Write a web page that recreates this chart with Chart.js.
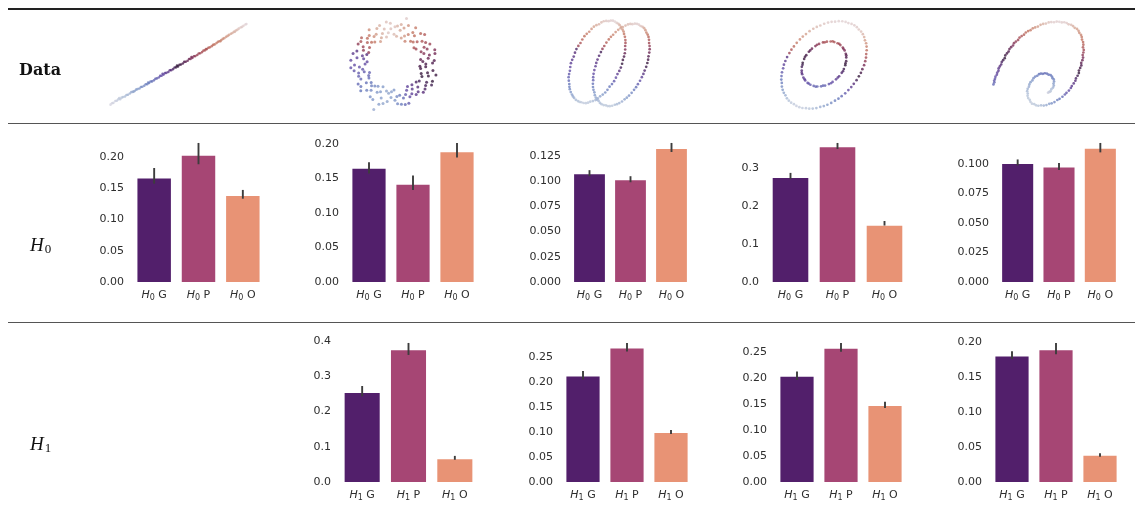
<!DOCTYPE html>
<html>
<head>
<meta charset="utf-8">
<script src="https://cdn.jsdelivr.net/npm/chart.js@4.4.0/dist/chart.umd.min.js"></script>
<style>
  html, body { margin: 0; padding: 0; background: #fff; }
  #fig { position: relative; width: 1135px; height: 525px; overflow: hidden; background: #fff; }
  .rule { position: absolute; left: 8px; width: 1127px; }
  .rowlab { position: absolute; white-space: nowrap; color: #111; will-change: transform; }
  .data-lab { font-family: "DejaVu Serif", serif; font-weight: bold; font-size: 16px; line-height: 16px; }
  .hom-lab { font-family: "Liberation Serif", serif; font-style: italic; font-size: 19px; line-height: 19px; }
  .hom-lab span { font-style: normal; font-size: 13px; position: relative; top: 2px; margin-left: 1px; }
  canvas { position: absolute; }
</style>
</head>
<body>
<div id="fig">
  <div class="rule" style="top:8px;height:1.6px;background:#222;"></div>
  <div class="rule" style="top:122.5px;height:1px;background:#555;"></div>
  <div class="rule" style="top:322px;height:1px;background:#555;"></div>
  <div class="rowlab data-lab" style="left:19px;top:62px;">Data</div>
  <div class="rowlab hom-lab" style="left:30px;top:235px;">H<span>0</span></div>
  <div class="rowlab hom-lab" style="left:30px;top:434px;">H<span>1</span></div>
</div>
<script>
// ---- bar data: categories and per-dataset means with error-bar bounds ----
const categories = ['G', 'P', 'O'];

const h0Mean = [
  [0.167, 0.203, 0.139],
  [0.165, 0.142, 0.189],
  [0.108, 0.102, 0.133],
  [0.277, 0.358, 0.151],
  [0.101, 0.098, 0.114]
];
const h0Low = [
  [0.157, 0.188, 0.133],
  [0.157, 0.133, 0.180],
  [0.105, 0.099, 0.129],
  [0.272, 0.351, 0.149],
  [0.099, 0.095, 0.110]
];
const h0High = [
  [0.182, 0.222, 0.147],
  [0.173, 0.154, 0.201],
  [0.111, 0.105, 0.138],
  [0.288, 0.367, 0.161],
  [0.104, 0.101, 0.118]
];

const h1Mean = [
  null,
  [0.255, 0.376, 0.067],
  [0.213, 0.269, 0.100],
  [0.204, 0.258, 0.148],
  [0.181, 0.190, 0.039]
];
const h1Low = [
  null,
  [0.243, 0.360, 0.063],
  [0.205, 0.261, 0.096],
  [0.196, 0.250, 0.142],
  [0.176, 0.183, 0.036]
];
const h1High = [
  null,
  [0.272, 0.394, 0.074],
  [0.222, 0.278, 0.104],
  [0.212, 0.267, 0.154],
  [0.187, 0.199, 0.041]
];

// ---- y tick labels per panel ----
const h0Ticks = [
  ['0.00', '0.05', '0.10', '0.15', '0.20'],
  ['0.00', '0.05', '0.10', '0.15', '0.20'],
  ['0.000', '0.025', '0.050', '0.075', '0.100', '0.125'],
  ['0.0', '0.1', '0.2', '0.3'],
  ['0.000', '0.025', '0.050', '0.075', '0.100']
];
const h1Ticks = [
  null,
  ['0.0', '0.1', '0.2', '0.3', '0.4'],
  ['0.00', '0.05', '0.10', '0.15', '0.20', '0.25'],
  ['0.00', '0.05', '0.10', '0.15', '0.20', '0.25'],
  ['0.00', '0.05', '0.10', '0.15', '0.20']
];

// ---- point clouds: [x, y, colour parameter] ----
const lineCloud = [
  [-7.0,-4.37,0.03],[-6.85,-4.22,0.04],[-6.7,-4.18,0.05],[-6.5,-3.98,0.06],[-6.35,-3.95,0.07],[-6.2,-3.80,0.08],
  [-6.0,-3.78,0.09],[-5.85,-3.62,0.10],[-5.7,-3.55,0.11],[-5.5,-3.50,0.12],[-5.35,-3.33,0.13],[-5.2,-3.30,0.14],
  [-5.0,-3.18,0.15],[-4.85,-3.02,0.16],[-4.7,-3.00,0.17],[-4.5,-2.90,0.18],[-4.35,-2.76,0.19],[-4.2,-2.70,0.20],
  [-4.0,-2.63,0.21],[-3.85,-2.48,0.22],[-3.7,-2.45,0.23],[-3.5,-2.34,0.24],[-3.35,-2.18,0.25],[-3.2,-2.17,0.26],
  [-3.0,-2.05,0.27],[-2.85,-1.88,0.28],[-2.7,-1.87,0.29],[-2.5,-1.76,0.30],[-2.35,-1.58,0.31],[-2.2,-1.55,0.32],
  [-2.0,-1.45,0.33],[-1.85,-1.28,0.35],[-1.7,-1.27,0.36],[-1.5,-1.14,0.37],[-1.35,-0.98,0.38],[-1.2,-0.95,0.40],
  [-1.0,-0.86,0.41],[-0.85,-0.67,0.43],[-0.7,-0.66,0.44],[-0.5,-0.55,0.46],[-0.35,-0.38,0.47],[-0.2,-0.36,0.49],
  [0.0,-0.26,0.50],[0.15,-0.08,0.52],[0.3,-0.06,0.53],[0.5,0.06,0.55],[0.65,0.23,0.56],[0.8,0.24,0.58],
  [1.0,0.35,0.59],[1.15,0.53,0.60],[1.3,0.55,0.62],[1.5,0.66,0.63],[1.65,0.83,0.64],[1.8,0.85,0.66],
  [2.0,0.97,0.67],[2.15,1.13,0.68],[2.3,1.16,0.69],[2.5,1.28,0.70],[2.65,1.44,0.71],[2.8,1.47,0.72],
  [3.0,1.60,0.73],[3.15,1.75,0.74],[3.3,1.79,0.75],[3.5,1.92,0.76],[3.65,2.06,0.77],[3.8,2.11,0.78],
  [4.0,2.25,0.79],[4.15,2.38,0.80],[4.3,2.44,0.81],[4.5,2.58,0.82],[4.65,2.70,0.83],[4.8,2.78,0.84],
  [5.0,2.92,0.85],[5.15,3.02,0.86],[5.3,3.13,0.87],[5.5,3.26,0.88],[5.65,3.34,0.89],[5.8,3.47,0.90],
  [6.0,3.59,0.91],[6.15,3.67,0.92],[6.3,3.80,0.93],[6.5,3.92,0.94],[6.65,3.99,0.95],[6.8,4.12,0.96],
  [7.0,4.25,0.97],[7.1,4.30,0.98],
  [-6.1,-3.66,0.08],[-4.6,-2.97,0.17],[-3.1,-2.00,0.26],[-1.6,-1.05,0.37],[-0.1,-0.17,0.50],[1.4,0.74,0.62],
  [2.9,1.62,0.72],[4.4,2.46,0.82],[5.9,3.46,0.91]
];

const ringCloud = [
  [3.30,0.00,0.55],[4.18,0.37,0.57],[2.76,0.49,0.59],[3.67,0.98,0.61],[4.23,1.54,0.63],[2.81,1.31,0.65],
  [3.12,1.80,0.67],[3.28,2.30,0.69],[2.07,1.74,0.71],[2.40,2.40,0.73],[2.76,3.29,0.75],[1.72,2.46,0.77],
  [1.95,3.38,0.79],[1.48,3.17,0.81],[1.50,4.14,0.84],[0.75,2.80,0.86],[0.64,3.64,0.88],[0.36,4.08,0.90],
  [0.00,3.20,0.92],[-0.33,3.78,0.93],[-0.80,4.53,0.93],[-0.78,2.90,0.92],[-1.20,3.29,0.90],[-1.78,3.81,0.88],
  [-1.40,2.42,0.86],[-2.07,2.95,0.83],[-2.57,3.06,0.80],[-2.33,2.33,0.77],[-3.37,2.83,0.74],[-2.54,1.78,0.71],
  [-3.20,1.85,0.68],[-2.63,1.23,0.66],[-3.85,1.40,0.42],[-3.28,0.88,0.40],[-3.84,0.68,0.38],[-4.48,0.39,0.37],
  [-3.00,0.00,0.36],[-3.59,-0.31,0.35],[-4.14,-0.73,0.34],[-3.09,-0.83,0.33],[-2.54,-0.92,0.32],[-3.44,-1.61,0.31],
  [-3.72,-2.15,0.30],[-2.87,-2.01,0.29],[-2.37,-1.99,0.28],[-2.83,-2.83,0.26],[-2.38,-2.83,0.24],[-1.66,-2.38,0.22],
  [-2.20,-3.81,0.21],[-1.40,-2.99,0.20],[-1.33,-3.67,0.19],[-0.78,-2.90,0.18],[-0.71,-4.04,0.18],[-0.31,-3.59,0.19],
  [0.00,-2.80,0.21],[0.37,-4.28,0.24],[0.59,-3.35,0.27],[0.98,-3.67,0.30],[1.54,-4.23,0.33],[1.31,-2.81,0.36],
  [1.85,-3.20,0.38],[2.30,-3.28,0.40],[1.86,-2.22,0.42],[2.47,-2.47,0.44],[3.22,-2.70,0.46],[2.62,-1.84,0.47],
  [3.38,-1.95,0.48],[3.99,-1.86,0.50],[2.82,-1.03,0.51],[3.48,-0.93,0.52],[4.04,-0.71,0.53],[3.29,-0.29,0.54],
  [4.00,0.12,0.56],[3.55,0.63,0.60],[3.10,1.13,0.64],[3.72,2.15,0.68],[2.91,2.44,0.72],[1.99,2.37,0.76],
  [2.25,3.90,0.80],[1.09,3.01,0.85],[0.75,4.24,0.89],[0.10,4.00,0.93],[-0.59,3.35,0.94],[-1.50,4.14,0.90],
  [-1.85,3.20,0.86],[-1.99,2.37,0.80],[-2.76,2.31,0.74],[-3.72,2.15,0.66],[-2.82,1.03,0.43],[-3.15,0.56,0.38],
  [-4.10,-0.10,0.36],[-3.25,-0.57,0.34],[-3.67,-1.33,0.32],[-2.60,-1.50,0.30],[-3.45,-2.89,0.28],[-1.99,-2.37,0.24],
  [-1.75,-3.03,0.21],[-1.57,-4.32,0.19],[-0.56,-3.15,0.18],[0.10,-3.90,0.21],[0.77,-4.33,0.27],[1.20,-3.29,0.33],
  [1.40,-2.42,0.38],[2.51,-2.99,0.42],[2.30,-1.93,0.46],[3.90,-2.25,0.48],[3.57,-1.30,0.51],[2.76,-0.49,0.53],
  [2.99,0.26,0.57],[4.25,1.14,0.61],[3.44,1.61,0.65],[2.29,1.61,0.69],[3.18,3.18,0.73],[2.12,3.03,0.77],
  [1.14,2.45,0.81],[1.04,3.86,0.86],[0.26,2.99,0.90],[-0.38,4.38,0.93],[-1.01,3.77,0.92],[-1.31,2.81,0.88],
  [-2.58,3.69,0.83],[-2.76,2.76,0.77],[-3.44,2.41,0.71],[-3.17,1.48,0.66],[-4.25,1.14,0.40],[-2.79,0.24,0.37],
  [-4.48,-0.39,0.35],[-3.67,-0.98,0.33],[-2.63,-1.23,0.31],[-3.44,-2.41,0.29],[-2.33,-2.33,0.26],[-2.47,-3.52,0.22],
  [-1.14,-2.45,0.20],[-1.14,-4.25,0.18],[-0.26,-2.99,0.19],[0.30,-3.49,0.24],[1.17,-4.35,0.30],[1.65,-3.53,0.36],
  [1.89,-2.70,0.40],[3.04,-3.04,0.44],[3.28,-2.30,0.47],[2.90,-1.35,0.50],[4.35,-1.17,0.52],[2.69,-0.23,0.54],
  [-2.10,-4.90,0.16],[1.30,4.90,0.95]
];

const loopsCloud = [
  // left loop
  [0.60,4.45,0.97],[0.40,4.55,0.965],[0.18,4.56,0.96],[-0.05,4.50,0.95],[-0.29,4.53,0.94],[-0.55,4.49,0.93],
  [-0.79,4.36,0.92],[-1.04,4.17,0.905],[-1.31,4.07,0.89],[-1.57,3.91,0.87],[-1.81,3.66,0.85],[-2.05,3.36,0.825],
  [-2.31,3.14,0.80],[-2.55,2.88,0.775],[-2.77,2.53,0.75],[-2.96,2.15,0.715],[-3.18,1.84,0.68],[-3.38,1.50,0.46],
  [-3.53,1.11,0.44],[-3.66,0.69,0.42],[-3.82,0.34,0.40],[-3.95,-0.02,0.385],[-4.02,-0.43,0.37],[-4.06,-0.84,0.35],
  [-4.14,-1.19,0.33],[-4.19,-1.52,0.315],[-4.17,-1.90,0.30],[-4.12,-2.26,0.28],[-4.11,-2.56,0.26],[-4.07,-2.82,0.235],
  [-3.97,-3.13,0.21],[-3.84,-3.40,0.19],[-3.74,-3.60,0.17],[-3.62,-3.76,0.15],[-3.44,-3.96,0.13],[-3.23,-4.10,0.115],
  [-3.06,-4.19,0.10],[-2.87,-4.22,0.09],[-2.64,-4.30,0.08],[-2.40,-4.32,0.085],[-2.17,-4.27,0.09],[-1.94,-4.16,0.105],
  [-1.67,-4.10,0.12],[-1.40,-3.99,0.14],[-1.16,-3.81,0.16],[-0.92,-3.58,0.18],[-0.65,-3.40,0.20],[-0.39,-3.17,0.225],
  [-0.16,-2.88,0.25],[0.06,-2.55,0.275],[0.31,-2.27,0.30],[0.53,-1.95,0.33],[0.72,-1.58,0.36],[0.88,-1.19,0.395],
  [1.07,-0.85,0.43],[1.23,-0.49,0.465],[1.36,-0.08,0.50],[1.44,0.33,0.53],[1.56,0.69,0.56],[1.64,1.05,0.595],
  [1.68,1.45,0.63],[1.68,1.83,0.665],[1.71,2.16,0.70],[1.70,2.47,0.73],[1.65,2.82,0.76],[1.56,3.13,0.79],
  [1.51,3.39,0.82],[1.41,3.60,0.845],[1.28,3.86,0.87],[1.11,4.07,0.895],[0.98,4.22,0.92],[0.80,4.31,0.945],
  // right loop
  [3.10,4.12,0.96],[2.90,4.21,0.955],[2.68,4.23,0.95],[2.43,4.18,0.94],[2.21,4.20,0.93],[1.97,4.15,0.92],
  [1.71,4.03,0.91],[1.44,3.86,0.895],[1.20,3.74,0.88],[0.96,3.57,0.86],[0.69,3.33,0.84],[0.43,3.04,0.82],
  [0.20,2.81,0.80],[-0.02,2.54,0.77],[-0.27,2.20,0.74],[-0.49,1.83,0.70],[-0.68,1.51,0.66],[-0.84,1.17,0.47],
  [-1.03,0.78,0.45],[-1.19,0.37,0.43],[-1.32,0.01,0.41],[-1.40,-0.35,0.395],[-1.52,-0.76,0.38],[-1.60,-1.16,0.36],
  [-1.64,-1.52,0.34],[-1.64,-1.85,0.315],[-1.67,-2.23,0.29],[-1.66,-2.58,0.26],[-1.61,-2.89,0.23],[-1.52,-3.15,0.21],
  [-1.47,-3.46,0.19],[-1.37,-3.72,0.17],[-1.24,-3.93,0.15],[-1.08,-4.08,0.135],[-0.94,-4.29,0.12],[-0.77,-4.43,0.11],
  [-0.56,-4.52,0.10],[-0.33,-4.55,0.095],[-0.14,-4.63,0.09],[0.08,-4.64,0.095],[0.33,-4.60,0.10],[0.60,-4.49,0.115],
  [0.83,-4.43,0.13],[1.07,-4.31,0.145],[1.35,-4.14,0.16],[1.62,-3.91,0.18],[1.85,-3.73,0.20],[2.08,-3.50,0.22],
  [2.35,-3.21,0.24],[2.60,-2.88,0.265],[2.81,-2.60,0.29],[3.00,-2.28,0.32],[3.22,-1.91,0.35],[3.41,-1.52,0.385],
  [3.57,-1.18,0.42],[3.70,-0.82,0.45],[3.86,-0.41,0.48],[3.98,0.00,0.51],[4.06,0.36,0.54],[4.10,0.72,0.57],
  [4.18,1.12,0.60],[4.22,1.49,0.63],[4.21,1.83,0.66],[4.16,2.14,0.69],[4.15,2.49,0.72],[4.10,2.80,0.75],
  [4.01,3.06,0.78],[3.88,3.27,0.815],[3.78,3.53,0.85],[3.65,3.74,0.88],[3.48,3.89,0.91],[3.28,3.98,0.935]
];

const ringsCloud = [
  // outer ring
  [3.41,3.96,0.95],[3.15,4.16,0.955],[2.86,4.31,0.96],[2.53,4.40,0.965],[2.24,4.53,0.97],[1.90,4.60,0.97],
  [1.53,4.61,0.97],[1.15,4.55,0.965],[0.79,4.54,0.96],[0.42,4.46,0.95],[0.02,4.33,0.94],[-0.38,4.14,0.93],
  [-0.75,3.99,0.92],[-1.11,3.79,0.905],[-1.50,3.53,0.89],[-1.87,3.22,0.87],[-2.20,2.95,0.85],[-2.50,2.64,0.825],
  [-2.83,2.28,0.80],[-3.12,1.89,0.76],[-3.38,1.54,0.72],[-3.59,1.17,0.68],[-3.83,0.75,0.42],[-4.01,0.32,0.40],
  [-4.16,-0.07,0.38],[-4.24,-0.46,0.355],[-4.36,-0.89,0.33],[-4.41,-1.30,0.305],[-4.43,-1.68,0.28],[-4.38,-2.04,0.255],
  [-4.37,-2.43,0.23],[-4.29,-2.78,0.205],[-4.17,-3.10,0.18],[-4.00,-3.37,0.155],[-3.85,-3.69,0.13],[-3.65,-3.94,0.11],
  [-3.41,-4.16,0.09],[-3.12,-4.32,0.08],[-2.86,-4.51,0.07],[-2.56,-4.64,0.075],[-2.24,-4.73,0.08],[-1.87,-4.75,0.09],
  [-1.53,-4.81,0.10],[-1.17,-4.79,0.12],[-0.79,-4.74,0.14],[-0.39,-4.62,0.16],[-0.02,-4.53,0.18],[0.35,-4.38,0.205],
  [0.75,-4.19,0.23],[1.14,-3.94,0.255],[1.50,-3.73,0.28],[1.83,-3.46,0.305],[2.20,-3.15,0.33],[2.53,-2.80,0.365],
  [2.83,-2.48,0.40],[3.09,-2.13,0.435],[3.38,-1.74,0.47],[3.62,-1.33,0.505],[3.83,-0.95,0.54],[3.98,-0.56,0.58],
  [4.16,-0.13,0.62],[4.28,0.30,0.66],[4.36,0.69,0.70],[4.38,1.07,0.735],[4.43,1.48,0.77],[4.42,1.87,0.805],
  [4.37,2.23,0.84],[4.25,2.55,0.865],[4.17,2.90,0.89],[4.03,3.21,0.91],[3.85,3.49,0.93],[3.61,3.71,0.94],
  // inner ring
  [1.70,2.03,0.68],[1.41,2.23,0.70],[1.07,2.36,0.72],[0.69,2.42,0.72],[0.30,2.40,0.71],[-0.11,2.32,0.69],
  [-0.51,2.16,0.66],[-0.89,1.93,0.63],[-1.25,1.65,0.60],[-1.57,1.32,0.57],[-1.84,0.95,0.54],[-2.06,0.55,0.52],
  [-2.21,0.13,0.50],[-2.30,-0.30,0.47],[-2.31,-0.71,0.44],[-2.26,-1.10,0.42],[-2.14,-1.46,0.40],[-1.95,-1.77,0.37],
  [-1.70,-2.03,0.35],[-1.41,-2.23,0.33],[-1.07,-2.36,0.32],[-0.69,-2.42,0.31],[-0.30,-2.40,0.31],[0.11,-2.32,0.32],
  [0.51,-2.16,0.34],[0.89,-1.93,0.36],[1.25,-1.65,0.39],[1.57,-1.32,0.42],[1.84,-0.95,0.45],[2.06,-0.55,0.48],
  [2.21,-0.13,0.50],[2.30,0.30,0.53],[2.31,0.71,0.56],[2.26,1.10,0.59],[2.14,1.46,0.62],[1.95,1.77,0.65],
  [1.58,2.17,0.69],[0.90,2.44,0.72],[0.08,2.33,0.70],[-0.72,2.07,0.65],[-1.43,1.46,0.58],[-1.97,0.78,0.53],
  [-2.23,-0.08,0.48],[-2.31,-0.93,0.43],[-2.02,-1.63,0.38],[-1.58,-2.10,0.34],[-0.86,-2.44,0.31],[-0.10,-2.33,0.31],
  [0.72,-2.07,0.35],[1.43,-1.46,0.40],[1.97,-0.78,0.46],[2.23,0.08,0.51],[2.31,0.93,0.57],[2.02,1.63,0.63]
];

const spiralCloud = [
  [-4.83,-2.30,0.30],[-4.74,-2.08,0.31],[-4.75,-1.88,0.33],[-4.67,-1.70,0.34],[-4.62,-1.47,0.35],[-4.48,-1.26,0.37],
  [-4.43,-1.03,0.38],[-4.31,-0.83,0.40],[-4.29,-0.57,0.41],[-4.17,-0.37,0.43],[-4.03,-0.16,0.45],[-3.97,0.10,0.46],
  [-3.83,0.30,0.48],[-3.66,0.52,0.50],[-3.60,0.81,0.52],[-3.43,1.03,0.54],[-3.26,1.23,0.56],[-3.17,1.50,0.58],
  [-3.00,1.70,0.60],[-2.80,1.88,0.62],[-2.70,2.13,0.64],[-2.50,2.30,0.66],[-2.27,2.48,0.68],[-2.12,2.73,0.70],
  [-1.90,2.90,0.72],[-1.66,3.05,0.74],[-1.47,3.28,0.76],[-1.23,3.43,0.78],[-0.98,3.53,0.80],[-0.75,3.73,0.82],
  [-0.50,3.83,0.84],[-0.22,3.92,0.86],[0.06,4.11,0.88],[0.33,4.20,0.90],[0.61,4.24,0.92],[0.90,4.36,0.93],
  [1.17,4.40,0.95],[1.45,4.38,0.96],[1.73,4.45,0.96],[2.00,4.43,0.97],[2.26,4.36,0.96],[2.52,4.38,0.96],
  [2.77,4.30,0.95],[2.97,4.16,0.93],[3.23,4.11,0.92],[3.43,3.97,0.90],[3.60,3.78,0.88],[3.84,3.66,0.87],
  [4.00,3.47,0.85],[4.08,3.24,0.83],[4.25,3.03,0.82],[4.33,2.80,0.80],[4.36,2.52,0.78],[4.47,2.25,0.76],
  [4.50,1.97,0.74],[4.46,1.69,0.72],[4.54,1.41,0.69],[4.50,1.13,0.67],[4.43,0.85,0.65],[4.47,0.58,0.62],
  [4.40,0.30,0.60],[4.28,0.01,0.58],[4.29,-0.26,0.56],[4.17,-0.53,0.54],[4.04,-0.82,0.52],[4.03,-1.08,0.50],
  [3.90,-1.37,0.48],[3.73,-1.66,0.46],[3.67,-1.91,0.44],[3.50,-2.20,0.42],[3.30,-2.48,0.40],[3.20,-2.69,0.38],
  [3.00,-2.97,0.36],[2.75,-3.21,0.34],[2.58,-3.39,0.32],[2.33,-3.63,0.30],[2.03,-3.85,0.28],[1.80,-3.98,0.26],
  [1.50,-4.20,0.24],[1.21,-4.34,0.22],[0.96,-4.39,0.19],[0.67,-4.53,0.17],[0.39,-4.58,0.15],[0.11,-4.55,0.13],
  [-0.17,-4.60,0.11],[-0.40,-4.55,0.10],[-0.60,-4.42,0.10],[-0.83,-4.37,0.09],[-0.99,-4.18,0.09],[-1.07,-3.96,0.10],
  [-1.23,-3.77,0.10],[-1.29,-3.52,0.11],[-1.27,-3.28,0.12],[-1.33,-3.03,0.13],[-1.28,-2.78,0.15],[-1.15,-2.55,0.16],
  [-1.10,-2.30,0.18],[-0.98,-2.06,0.20],[-0.79,-1.87,0.21],[-0.67,-1.63,0.23],[-0.49,-1.46,0.25],[-0.28,-1.37,0.26],
  [-0.10,-1.20,0.28],[0.10,-1.14,0.29],[0.30,-1.16,0.29],[0.50,-1.10,0.30],[0.71,-1.14,0.29],[0.89,-1.26,0.29],
  [1.10,-1.30,0.28],[1.24,-1.45,0.27],[1.30,-1.63,0.25],[1.43,-1.77,0.24],[1.46,-1.99,0.22],[1.40,-2.21,0.19],
  [1.43,-2.43,0.17],[1.35,-2.64,0.15],[1.18,-2.82,0.12],[1.10,-3.03,0.10],[1.01,-3.09,0.08],[0.92,-3.14,0.07],
  [0.83,-3.20,0.05]
];

const clouds = [lineCloud, ringCloud, loopsCloud, ringsCloud, spiralCloud];

// ---- styling ----
const TEXT = '#2e2e2e';
const BAR_COLORS = ['#521f6b', '#a64674', '#e89375'];
const ERR_COLOR = '#3d3d3d';
const DOT_ALPHA = 0.78;
const DOT_RADIUS = [1.3, 1.5, 1.35, 1.35, 1.35];

// cyclic "twilight"-style colour ramp
const TWILIGHT = [
  [0.00, [226, 217, 226]], [0.10, [184, 197, 217]], [0.20, [130, 154, 200]], [0.28, [98, 115, 185]],
  [0.36, [95, 72, 162]], [0.44, [82, 38, 116]], [0.50, [48, 20, 56]], [0.56, [72, 22, 72]],
  [0.62, [118, 38, 82]], [0.70, [164, 72, 80]], [0.78, [192, 110, 90]], [0.87, [211, 160, 140]],
  [0.94, [221, 196, 192]], [1.00, [226, 217, 226]]
];
function twilight(t, a) {
  t = Math.max(0, Math.min(1, t));
  for (let i = 1; i < TWILIGHT.length; i++) {
    const [t1, c1] = TWILIGHT[i];
    const [t0, c0] = TWILIGHT[i - 1];
    if (t <= t1) {
      const f = (t - t0) / (t1 - t0);
      const c = c0.map((v, k) => Math.round(v + (c1[k] - v) * f));
      return `rgba(${c[0]},${c[1]},${c[2]},${a})`;
    }
  }
  return `rgba(226,217,226,${a})`;
}

const fig = document.getElementById('fig');
function makeCanvas(left, top, w, h) {
  const c = document.createElement('canvas');
  c.width = w; c.height = h;
  c.style.left = left + 'px'; c.style.top = top + 'px';
  c.style.width = w + 'px'; c.style.height = h + 'px';
  fig.appendChild(c);
  return c;
}

// ---- top row: scatter panels (10 px per data unit) ----
const cloudCenters = [[178, 64], [394, 64], [609, 63], [824, 64], [1040, 63]];
clouds.forEach((pts, i) => {
  const [cx, cy] = cloudCenters[i];
  const cv = makeCanvas(cx - 110, cy - 57, 220, 114);
  new Chart(cv, {
    type: 'scatter',
    data: {
      datasets: [{
        data: pts.map(p => ({ x: p[0], y: p[1] })),
        pointBackgroundColor: pts.map(p => twilight(p[2], DOT_ALPHA)),
        pointBorderWidth: 0,
        pointRadius: DOT_RADIUS[i],
        clip: false
      }]
    },
    options: {
      responsive: false, animation: false, devicePixelRatio: 1, events: [],
      layout: { padding: 0 },
      plugins: { legend: { display: false }, tooltip: { enabled: false } },
      scales: {
        x: { type: 'linear', min: -11, max: 11, display: false },
        y: { type: 'linear', min: -5.7, max: 5.7, display: false }
      }
    }
  });
});

// ---- bar panels ----
function errorBars(lo, hi) {
  return {
    id: 'errorBars',
    afterDatasetsDraw(chart) {
      const { ctx, scales: { y } } = chart;
      const meta = chart.getDatasetMeta(0);
      ctx.save();
      ctx.strokeStyle = ERR_COLOR;
      ctx.lineWidth = 1.9;
      meta.data.forEach((bar, i) => {
        ctx.beginPath();
        ctx.moveTo(bar.x, y.getPixelForValue(lo[i]));
        ctx.lineTo(bar.x, y.getPixelForValue(hi[i]));
        ctx.stroke();
      });
      ctx.restore();
    }
  };
}

function homologyLabels(dim) {
  return {
    id: 'homologyLabels',
    afterDraw(chart) {
      const { ctx, chartArea, scales: { x } } = chart;
      const base = chartArea.bottom + 15.5;
      const fIt = 'italic 11px "DejaVu Sans"';
      const fSub = '8px "DejaVu Sans"';
      const fMain = '11px "DejaVu Sans"';
      ctx.save();
      ctx.fillStyle = TEXT;
      ctx.textAlign = 'left';
      ctx.textBaseline = 'alphabetic';
      chart.data.labels.forEach((lab, i) => {
        const cx = x.getPixelForValue(i);
        ctx.font = fIt; const wH = ctx.measureText('H').width;
        ctx.font = fSub; const wS = ctx.measureText(String(dim)).width;
        ctx.font = fMain; const wT = ctx.measureText(' ' + lab).width;
        let px = cx - (wH + wS + wT) / 2;
        ctx.font = fIt; ctx.fillText('H', px, base); px += wH;
        ctx.font = fSub; ctx.fillText(String(dim), px, base + 2.5); px += wS;
        ctx.font = fMain; ctx.fillText(' ' + lab, px, base);
      });
      ctx.restore();
    }
  };
}

const PAD_TOP = 20;
function barPanel(area, dim, mean, lo, hi, ticks) {
  const [l, r, t, b] = area;
  const cv = makeCanvas(l - 50, t - PAD_TOP, r - l + 56, b - t + PAD_TOP + 24);
  const yMax = Math.max(...hi) * 1.05;
  new Chart(cv, {
    type: 'bar',
    data: {
      labels: categories,
      datasets: [{
        data: mean,
        backgroundColor: BAR_COLORS,
        borderColor: 'rgba(255,255,255,0.45)',
        borderWidth: 1,
        categoryPercentage: 1,
        barPercentage: 0.8
      }]
    },
    options: {
      responsive: false, animation: false, devicePixelRatio: 1, events: [],
      layout: { padding: { top: PAD_TOP, right: 6, bottom: 24, left: 0 } },
      plugins: { legend: { display: false }, tooltip: { enabled: false } },
      scales: {
        x: { display: false, offset: true },
        y: {
          min: 0, max: yMax, bounds: 'data',
          grid: { display: false, drawTicks: false },
          border: { display: false },
          afterFit: s => { s.width = 50; },
          afterBuildTicks: s => { s.ticks = ticks.map(v => ({ value: parseFloat(v) })); },
          ticks: {
            autoSkip: false, padding: 8, color: TEXT,
            font: { family: 'DejaVu Sans', size: 11 },
            callback: (v, i) => ticks[i]
          }
        }
      }
    },
    plugins: [errorBars(lo, hi), homologyLabels(dim)]
  });
}

// plot-area boxes [left, right, top, bottom]
const h0Areas = [[132, 265, 136, 282], [347, 479, 136, 282], [569, 692, 136, 282], [767, 908, 136, 282], [997, 1121, 136, 282]];
const h1Areas = [null, [339, 478, 336, 482], [561, 693, 336, 482], [775, 907, 336, 482], [990, 1122, 336, 482]];

h0Mean.forEach((m, i) => barPanel(h0Areas[i], 0, m, h0Low[i], h0High[i], h0Ticks[i]));
h1Mean.forEach((m, i) => { if (m) barPanel(h1Areas[i], 1, m, h1Low[i], h1High[i], h1Ticks[i]); });
</script>
</body>
</html>
